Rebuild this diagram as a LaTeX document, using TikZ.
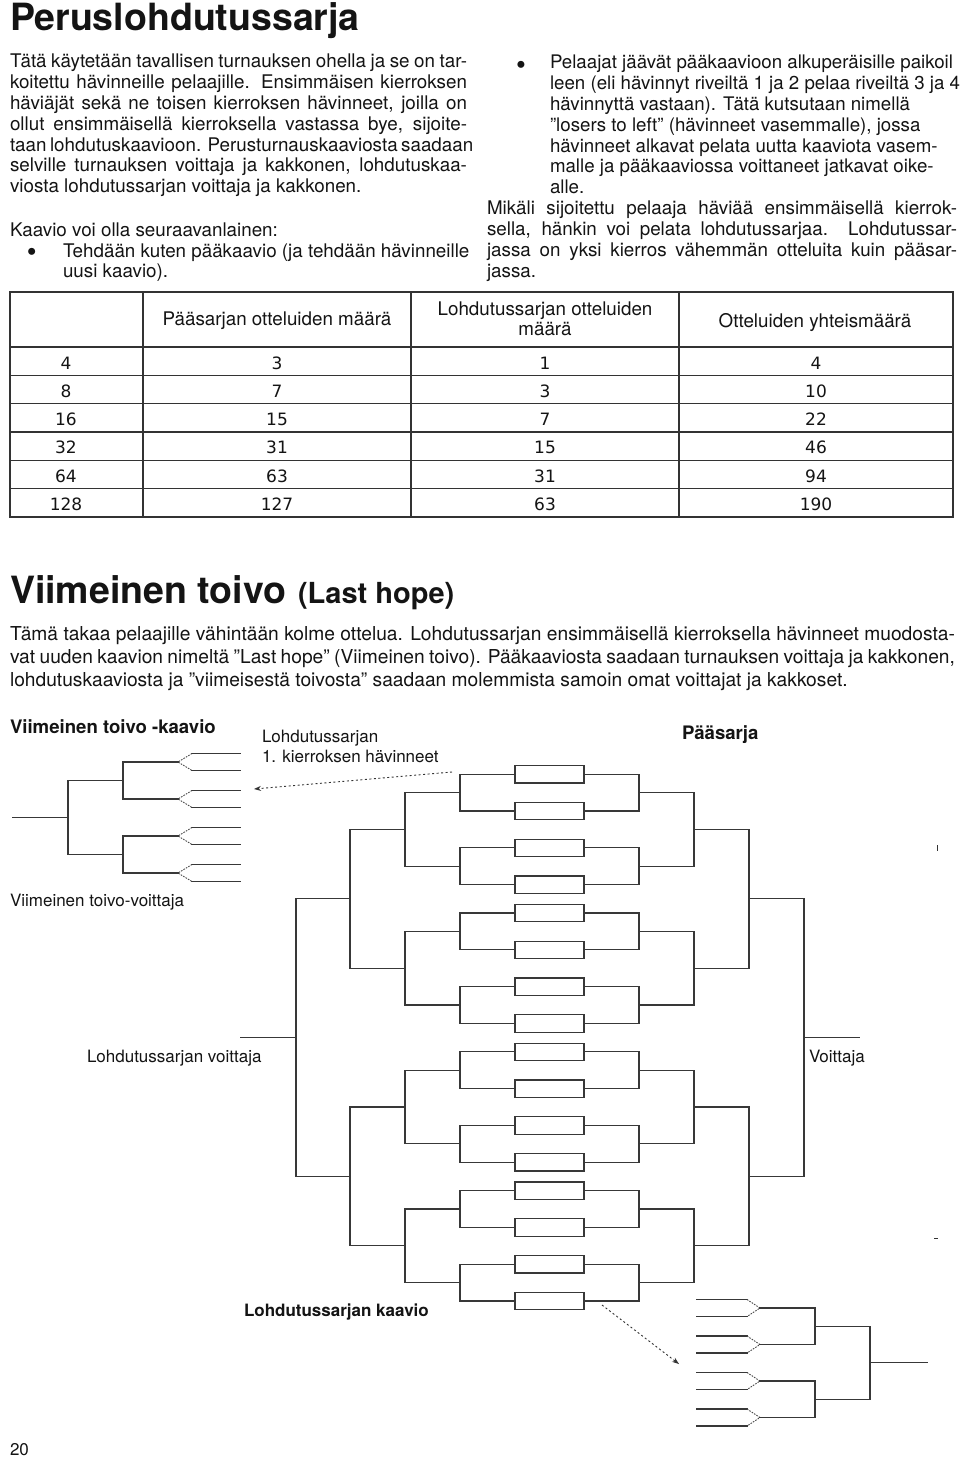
\documentclass[tikz,border=0pt]{standalone}
\usepackage{fontspec}
\setmainfont{TeX Gyre Heros}
\newfontfamily\numfont{DejaVu Sans}
\usetikzlibrary{arrows.meta}
\newcommand\fBody{\fontsize{18.8}{20.8}\selectfont}
\newcommand\fBodyR{\fontsize{18.7}{20.8}\selectfont}
\newcommand\fBig{\fontsize{37.5}{40}\selectfont\bfseries}
\newcommand\fLastHope{\fontsize{29}{32}\selectfont\bfseries}
\newcommand\fLbl{\fontsize{17}{20}\selectfont}
\newcommand\fLblB{\fontsize{18.6}{20}\selectfont\bfseries}
\newcommand\fNum{\numfont\fontsize{17}{20}\selectfont}
\newcommand\fPara{\fontsize{19.2}{23}\selectfont}
\newcommand\fBul{\fontsize{28}{20}\selectfont}
\newcommand\jl[2]{\makebox[#1pt][s]{#2}}
\begin{document}
\begin{tikzpicture}[x=1pt,y=-1pt]
\tikzset{
 txt/.style={anchor=base west,inner sep=0pt,outer sep=0pt,text=black!92},
 ctxt/.style={anchor=base,inner sep=0pt,outer sep=0pt,text=black!92},
 brk/.style={draw=black!78,line width=1.2pt,line cap=rect},
 fork/.style={draw=black!70,line width=0.9pt,dash pattern=on 1.6pt off 1.2pt},
 tbl/.style={draw=black!80,line width=1.1pt},
 dotarrow/.style={draw=black!80,line width=0.9pt,dash pattern=on 2pt off 2.5pt,-{Stealth[length=7pt,width=5pt]}},
 speck/.style={draw=black!80,line width=1pt},
}
\useasboundingbox (0,0) rectangle (960,1458);
\fill[white] (0,0) rectangle (960,1458);

% ---------- title and first text block ----------
\node[txt,font=\fBig] (t1) at (10,31) {Peruslohdutussarja};
\node[txt,font=\fBody] (p1a) at (10,68) {\jl{457}{Tätä käytetään tavallisen turnauksen ohella ja se on tar-}};
\node[txt,font=\fBody] (p1b) at (10,88.8) {\jl{457}{koitettu hävinneille pelaajille. Ensimmäisen kierroksen}};
\node[txt,font=\fBody] (p1c) at (10,109.6) {\jl{457}{häviäjät sekä ne toisen kierroksen hävinneet, joilla on}};
\node[txt,font=\fBody] (p1d) at (10,130.4) {\jl{457}{ollut ensimmäisellä kierroksella vastassa bye, sijoite-}};
\node[txt,font=\fBody] (p1e) at (10,151.2) {\jl{457}{taan lohdutuskaavioon. Perusturnauskaaviosta saadaan}};
\node[txt,font=\fBody] (p1f) at (10,172) {\jl{457}{selville turnauksen voittaja ja kakkonen, lohdutuskaa-}};
\node[txt,font=\fBody] (p1g) at (10,192.8) {viosta lohdutussarjan voittaja ja kakkonen.};
\node[txt,font=\fBody] (p1h) at (10,236) {Kaavio voi olla seuraavanlainen:};
\node[txt,font=\fBul] (b1) at (27,261.5) {•};
\node[txt,font=\fBody] (p1i) at (63,257) {Tehdään kuten pääkaavio (ja tehdään hävinneille};
\node[txt,font=\fBody] (p1j) at (63,277.8) {uusi kaavio).};

% ---------- right column ----------
\node[txt,font=\fBul] (b2) at (516,74.5) {•};
\node[txt,font=\fBodyR] (p2a) at (550,69) {Pelaajat jäävät pääkaavioon alkuperäisille paikoil};
\node[txt,font=\fBodyR] (p2b) at (550,89.8) {leen (eli hävinnyt riveiltä 1 ja 2 pelaa riveiltä 3 ja 4};
\node[txt,font=\fBodyR] (p2c) at (550,110.6) {hävinnyttä vastaan). Tätä kutsutaan nimellä};
\node[txt,font=\fBodyR] (p2d) at (550,131.4) {”losers to left” (hävinneet vasemmalle), jossa};
\node[txt,font=\fBodyR] (p2e) at (550,152.2) {hävinneet alkavat pelata uutta kaaviota vasem-};
\node[txt,font=\fBodyR] (p2f) at (550,173) {malle ja pääkaaviossa voittaneet jatkavat oike-};
\node[txt,font=\fBodyR] (p2g) at (550,193.8) {alle.};
\node[txt,font=\fBody] (p2h) at (487,214.6) {\jl{470}{Mikäli sijoitettu pelaaja häviää ensimmäisellä kierrok-}};
\node[txt,font=\fBody] (p2i) at (487,235.4) {\jl{470}{sella, hänkin voi pelata lohdutussarjaa. Lohdutussar-}};
\node[txt,font=\fBody] (p2j) at (487,256.2) {\jl{470}{jassa on yksi kierros vähemmän otteluita kuin pääsar-}};
\node[txt,font=\fBody] (p2k) at (487,277) {jassa.};

% ---------- table ----------
\draw[tbl] (10,292) rectangle (953,517);
\foreach \xx in {143,411,679} \draw[tbl] (\xx,292) -- (\xx,517);
\foreach \yy in {347,375.3,403.7,432,460.3,488.7} \draw[tbl] (10,\yy) -- (953,\yy);
\node[ctxt,font=\fBody] (h2) at (277,325) {Pääsarjan otteluiden määrä};
\node[ctxt,font=\fBody] (h3a) at (545,315) {Lohdutussarjan otteluiden};
\node[ctxt,font=\fBody] (h3b) at (545,335) {määrä};
\node[ctxt,font=\fBody] (h4) at (815,327) {Otteluiden yhteismäärä};
\foreach \r/\a/\b/\c/\d in {0/4/3/1/4, 1/8/7/3/10, 2/16/15/7/22, 3/32/31/15/46, 4/64/63/31/94, 5/128/127/63/190}{
  \pgfmathsetmacro\by{347+28.33*\r+22}
  \node[ctxt,font=\fNum] (n1-\r) at (66,\by) {\a};
  \node[ctxt,font=\fNum] (n2-\r) at (277,\by) {\b};
  \node[ctxt,font=\fNum] (n3-\r) at (545,\by) {\c};
  \node[ctxt,font=\fNum] (n4-\r) at (816,\by) {\d};
}

% ---------- second section text ----------
\node[txt,font=\fBig] (t2) at (10,603) {Viimeinen toivo};
\node[txt,font=\fLastHope] (t2b) at (298,603) {(Last hope)};
\node[txt,font=\fPara] (p3a) at (10,640) {\jl{945}{Tämä takaa pelaajille vähintään kolme ottelua. Lohdutussarjan ensimmäisellä kierroksella hävinneet muodosta-}};
\node[txt,font=\fPara] (p3b) at (10,663) {\jl{945}{vat uuden kaavion nimeltä ”Last hope” (Viimeinen toivo). Pääkaaviosta saadaan turnauksen voittaja ja kakkonen,}};
\node[txt,font=\fPara] (p3c) at (10,686) {lohdutuskaaviosta ja ”viimeisestä toivosta” saadaan molemmista samoin omat voittajat ja kakkoset.};

% ---------- labels of the brackets ----------
\node[txt,font=\fLblB] (l1) at (10,733) {Viimeinen toivo -kaavio};
\node[txt,font=\fLbl] (l2) at (262,742) {Lohdutussarjan};
\node[txt,font=\fLbl] (l3) at (262,762) {1. kierroksen hävinneet};
\node[txt,font=\fLblB] (l4) at (682,739) {Pääsarja};
\node[txt,font=\fLbl] (l5) at (10,906) {Viimeinen toivo-voittaja};
\node[txt,font=\fLbl] (l6) at (87,1062) {Lohdutussarjan voittaja};
\node[txt,font=\fLbl] (l7) at (809,1062) {Voittaja};
\node[txt,font=\fontsize{17}{20}\selectfont\bfseries] (l8) at (244,1316) {Lohdutussarjan kaavio};
\node[txt,font=\fLbl] (pg) at (10,1455) {20};

% ---------- main bracket (right) and consolation bracket (left) ----------
\foreach \g in {0,...,3}{
 \foreach \i in {0,...,3}{
  \pgfmathsetmacro\bt{765.5+138.8*\g+36.8*\i}
  \pgfmathsetmacro\bm{\bt+8.75}
  \draw[brk] (515,\bt) rectangle (584,\bt+17.5);
  \draw[brk] (584,\bm)--(639,\bm) (515,\bm)--(460,\bm);
 }
 \foreach \j in {0,1}{
  \pgfmathsetmacro\lm{792.65+138.8*\g+73.6*\j}
  \draw[brk] (639,\lm-18.4)--(639,\lm+18.4) (639,\lm)--(694,\lm);
  \draw[brk] (460,\lm-18.4)--(460,\lm+18.4) (460,\lm)--(405,\lm);
 }
 \pgfmathsetmacro\km{829.45+138.8*\g}
 \draw[brk] (694,\km-36.8)--(694,\km+36.8) (694,\km)--(749,\km);
 \draw[brk] (405,\km-36.8)--(405,\km+36.8) (405,\km)--(350,\km);
}
\foreach \h in {0,1}{
 \pgfmathsetmacro\hm{898.85+277.6*\h}
 \draw[brk] (749,\hm-69.4)--(749,\hm+69.4) (749,\hm)--(804,\hm);
 \draw[brk] (350,\hm-69.4)--(350,\hm+69.4) (350,\hm)--(296,\hm);
}
\draw[brk] (804,898.85)--(804,1176.45) (804,1037.65)--(859,1037.65);
\draw[brk] (296,898.85)--(296,1176.45) (296,1037.65)--(241,1037.65);

% ---------- last hope bracket (top left) ----------
\foreach \c in {762,799,836,873}{
  \draw[brk] (192,\c-8.5)--(240,\c-8.5) (192,\c+8.5)--(240,\c+8.5);
  \draw[fork] (192,\c-8.5)--(178,\c)--(192,\c+8.5);
  \draw[brk] (178,\c)--(123,\c);
}
\draw[brk] (123,762)--(123,799) (123,780.5)--(68,780.5);
\draw[brk] (123,836)--(123,873) (123,854.5)--(68,854.5);
\draw[brk] (68,780.5)--(68,854.5) (68,817.5)--(13,817.5);

% ---------- fork bracket (bottom right) ----------
\foreach \c in {1308,1344.5,1381,1417.5}{
  \draw[brk] (697,\c-8.5)--(747,\c-8.5) (697,\c+8.5)--(747,\c+8.5);
  \draw[fork] (747,\c-8.5)--(760,\c)--(747,\c+8.5);
  \draw[brk] (760,\c)--(815,\c);
}
\draw[brk] (815,1308)--(815,1344.5) (815,1326.25)--(870,1326.25);
\draw[brk] (815,1381)--(815,1417.5) (815,1399.25)--(870,1399.25);
\draw[brk] (870,1326.25)--(870,1399.25) (870,1362.75)--(927,1362.75);

% ---------- dotted arrows ----------
\coordinate (a1s) at (452,772);
\coordinate (a1e) at (254,789);
\draw[dotarrow] (a1s) -- (a1e);
\coordinate (a2s) at (602,1305);
\coordinate (a2e) at (679,1364);
\draw[dotarrow] (a2s) -- (a2e);

% ---------- small marks ----------
\draw[speck] (937,845) -- (937,851);
\draw[speck] (934,1238) -- (938,1238);
\end{tikzpicture}
\end{document}
